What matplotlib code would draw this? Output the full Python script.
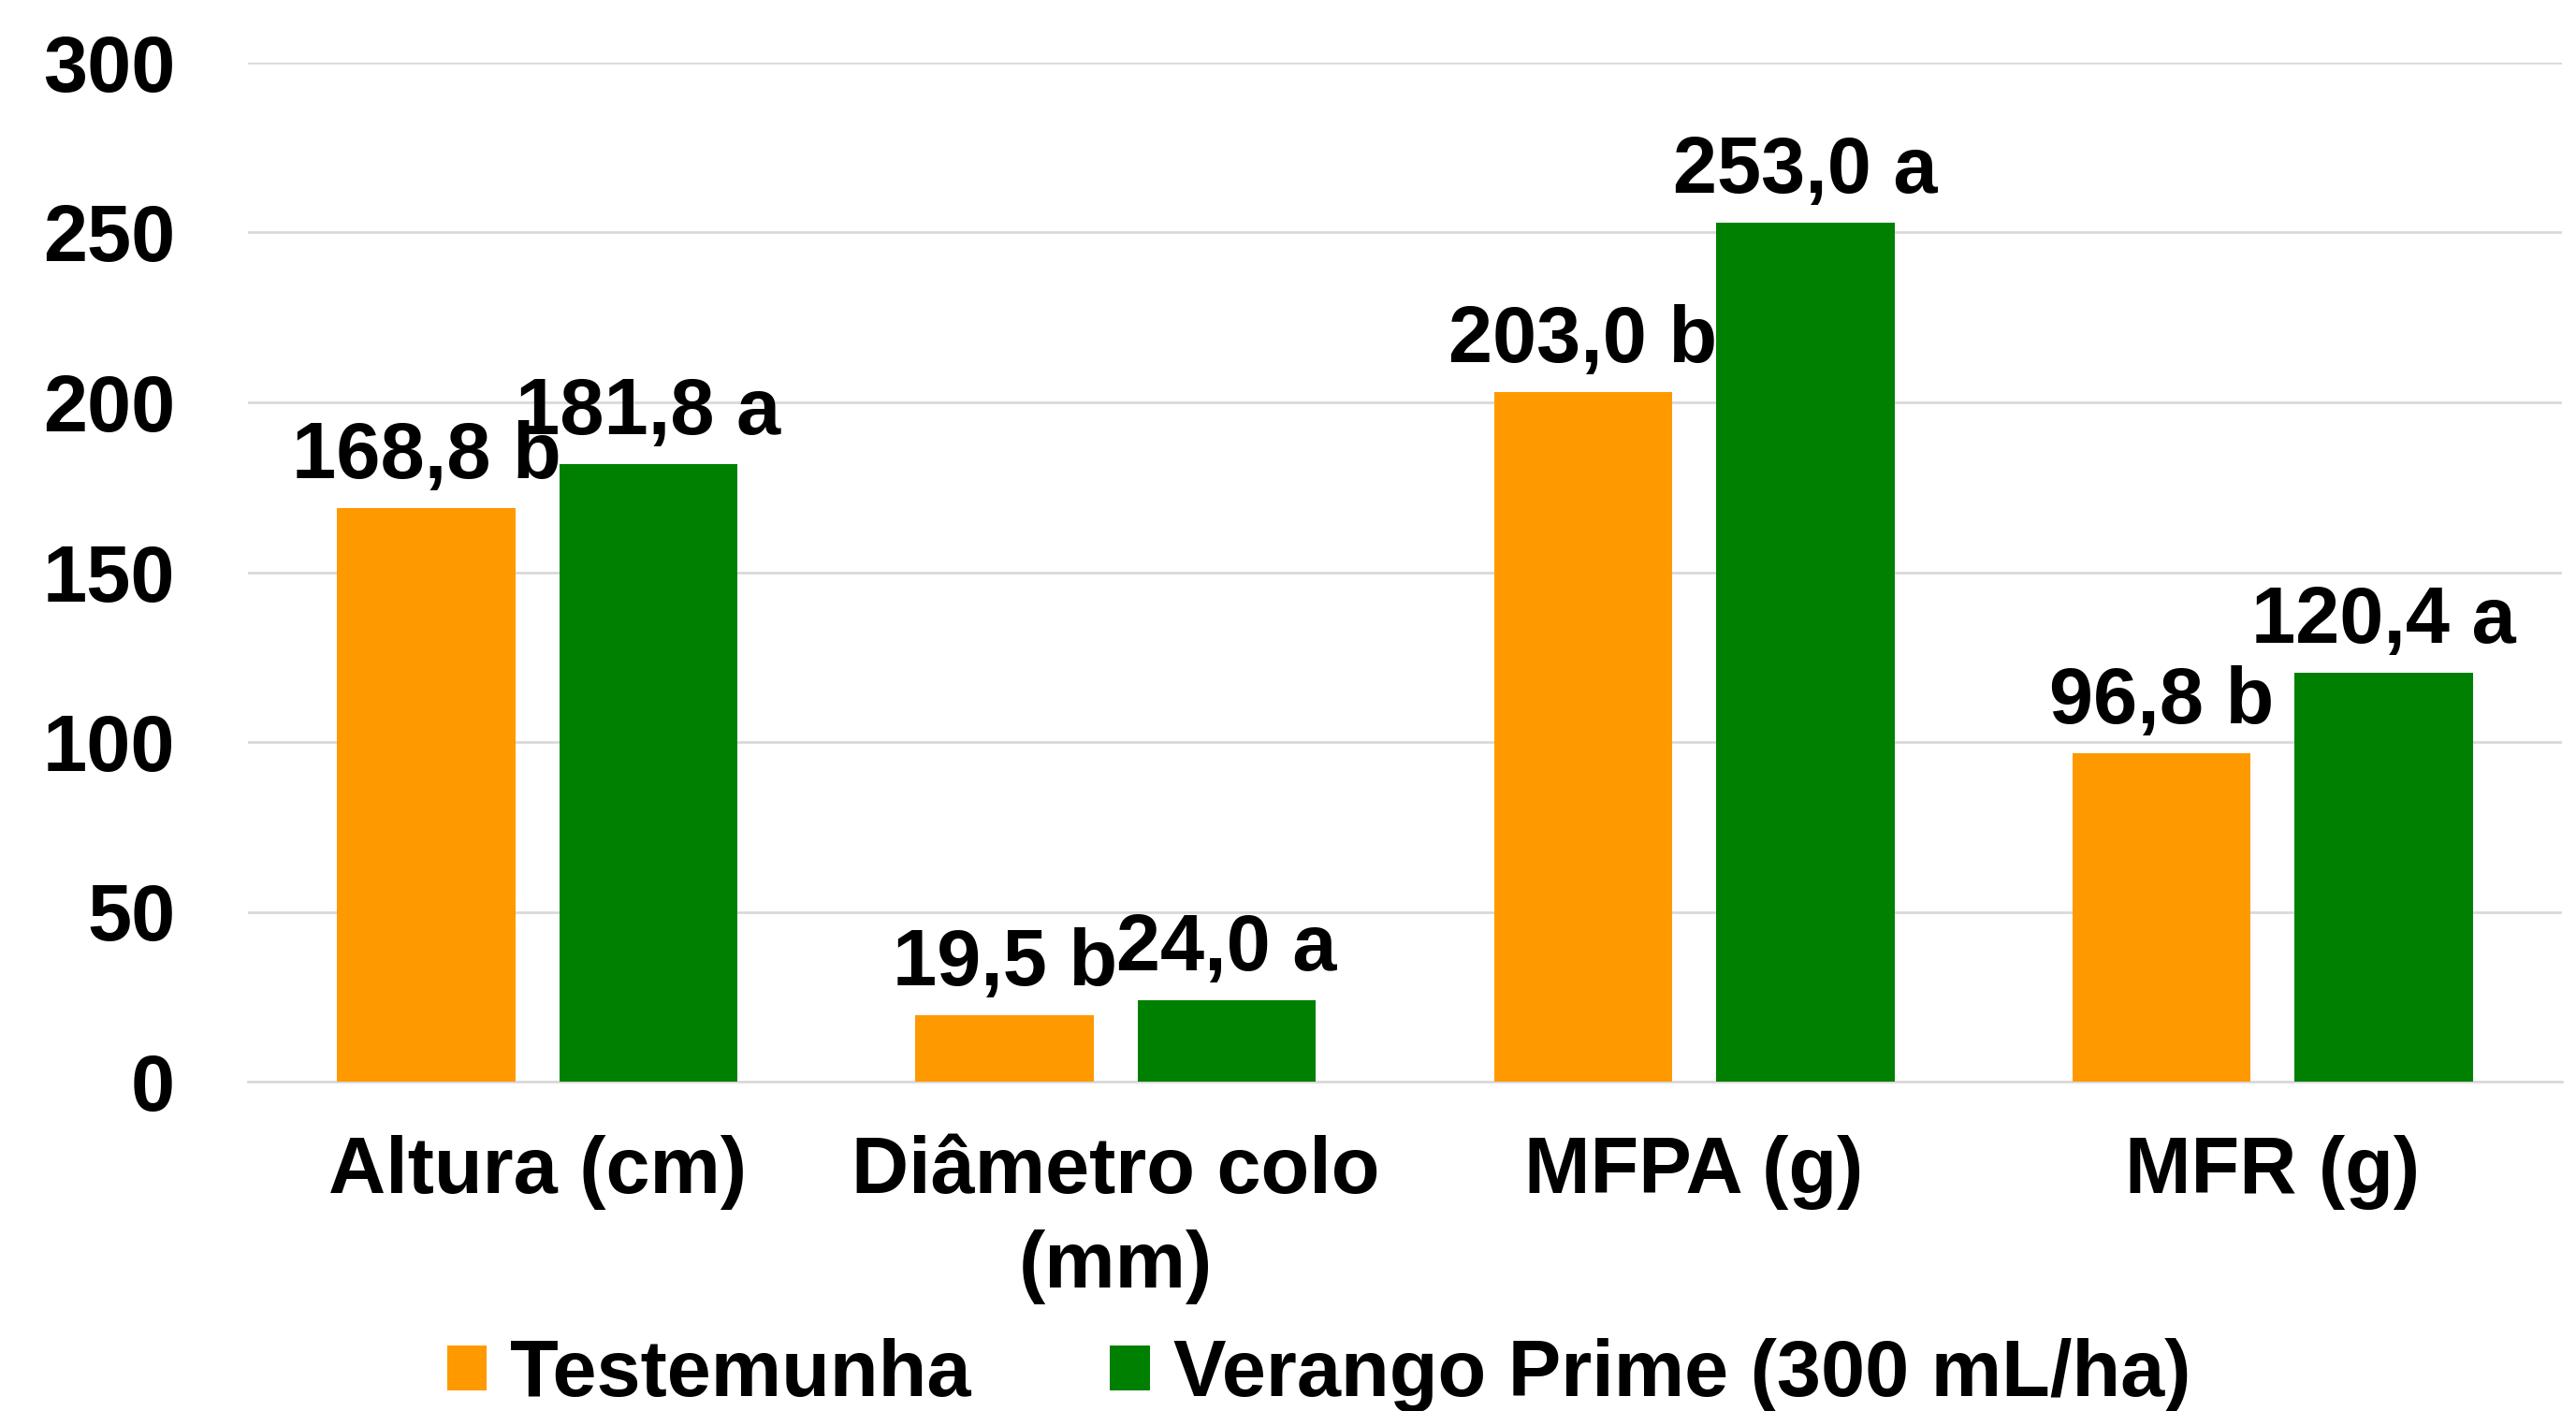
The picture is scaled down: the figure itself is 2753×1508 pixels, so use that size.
import numpy as np
import matplotlib
matplotlib.use("Agg")
import matplotlib.pyplot as plt

# data
categories = ["Altura (cm)", "Diâmetro colo\n(mm)", "MFPA (g)", "MFR (g)"]
testemunha = [168.8, 19.5, 203.0, 96.8]
verango = [181.8, 24.0, 253.0, 120.4]
letters_testemunha = ["b", "b", "b", "b"]
letters_verango = ["a", "a", "a", "a"]
series_names = ["Testemunha", "Verango Prime (300 mL/ha)"]
y_ticks = [0, 50, 100, 150, 200, 250, 300]

orange = "#FF9900"
green = "#008000"
font_size = 61

plt.rcParams['font.family'] = ['Liberation Sans', 'DejaVu Sans']
plt.rcParams['font.weight'] = 'bold'

W, H = 2753, 1508
fig = plt.figure(figsize=(W / 100, H / 100), dpi=100)
left, right, top, bottom = 265, 2738, 67, 1156
ax = fig.add_axes([left / W, 1 - bottom / H, (right - left) / W, (bottom - top) / H])

x = np.arange(len(categories))
width = 0.308
offset = 0.192
bars1 = ax.bar(x - offset, testemunha, width, color=orange, label=series_names[0], zorder=3)
bars2 = ax.bar(x + offset, verango, width, color=green, label=series_names[1], zorder=3)

def fmt(v):
    return f"{v:.1f}".replace(".", ",")

for bars, vals, letters in [(bars1, testemunha, letters_testemunha), (bars2, verango, letters_verango)]:
    for b, v, l in zip(bars, vals, letters):
        ax.annotate(f"{fmt(v)} {l}", (b.get_x() + b.get_width() / 2, v),
                    xytext=(0, 10), textcoords="offset points",
                    ha="center", va="bottom", fontsize=font_size, fontweight="bold", zorder=4)

ax.set_xlim(-0.5, len(categories) - 0.5)
ax.set_ylim(0, 300)
ax.set_yticks(y_ticks)
ax.set_yticklabels([str(t) for t in y_ticks], fontsize=font_size, fontweight="bold")
ax.set_xticks(x)
ax.set_xticklabels(categories, fontsize=font_size, fontweight="bold", linespacing=1.34)
ax.tick_params(axis="both", length=0)
ax.tick_params(axis="y", pad=56)
ax.tick_params(axis="x", pad=41)

ax.yaxis.grid(True, color="#D9D9D9", linewidth=2, zorder=0)
for s in ["top", "right", "left"]:
    ax.spines[s].set_visible(False)
ax.spines["bottom"].set_color("#D9D9D9")
ax.spines["bottom"].set_linewidth(2)

fig.legend(handles=[bars1, bars2], labels=series_names, loc="center",
           bbox_to_anchor=(0.512, 1 - 1470 / H), ncol=2, frameon=False,
           handlelength=0.5, handleheight=0.5,
           handletextpad=0.3, columnspacing=1.75, borderpad=0, borderaxespad=0,
           prop={"weight": "bold", "size": font_size})

fig.savefig("out.png", dpi=100)
